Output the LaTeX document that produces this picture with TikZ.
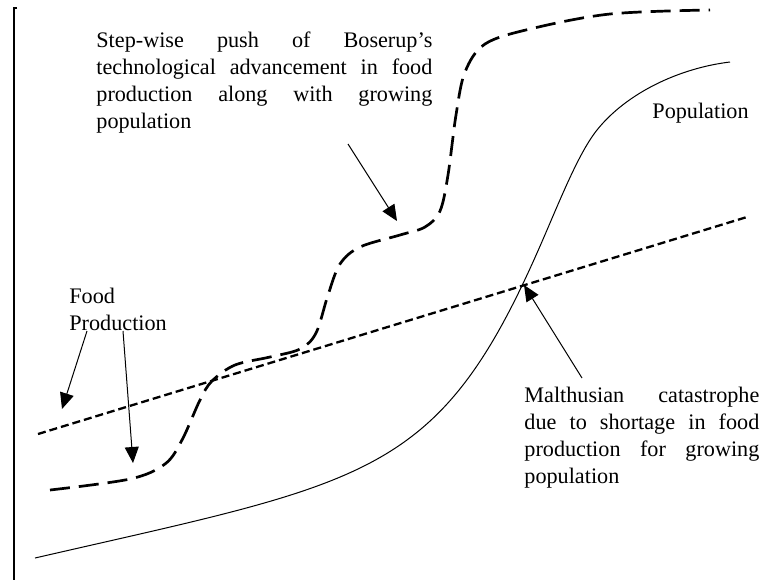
\documentclass[tikz,border=0pt]{standalone}
\usepackage{fontspec}
\setmainfont{Liberation Serif}
\usetikzlibrary{arrows.meta}

\begin{document}
\begin{tikzpicture}[
    x=0.5pt, y=-0.5pt,
    label/.style={inner sep=0pt, font=\fontsize{11.1}{13.5}\selectfont},
    para/.style={label, anchor=north west, align=justify},
    pointer/.style={-{Triangle[length=8pt, width=7pt]}, line width=0.5pt},
    foodline/.style={line width=1.15pt, dash pattern=on 4pt off 2pt},
    techline/.style={line width=1.35pt, dash pattern=on 10pt off 4.5pt},
    popline/.style={line width=0.5pt},
  ]
    \useasboundingbox (0,0) rectangle (781,580);

    % axis
    \draw[line width=0.75pt] (17,8) -- (14,8) -- (14,580);

    % curves
    \draw[foodline] (38,434) -- (747,217);
    \draw[techline] plot[smooth, tension=0.55] coordinates {
      (50,490) (130,479) (165,464) (182,440) (200,400) (212,381)
      (235,365) (270,357) (300,349) (316,333) (328,295) (340,264)
      (360,247) (400,235) (425,227) (440,211) (448,175) (456,115)
      (465,72) (485,44) (530,29) (610,14) (710,10)};
    \draw[popline] (35,558) .. controls (365,482) and (437,479) .. (537,253)
      .. controls (557,208) and (577,155) .. (597,130)
      .. controls (627,92.5) and (680,68) .. (730,62);

    % labels
    \node[para, text width=168pt] (stepText) at (96,31)
      {Step-wise push of Boserup's\linebreak technological advancement in food\linebreak
       production along with growing\linebreak population};
    \node[label, anchor=west] (popText) at (652,113) {Population};
    \node[label, anchor=north west, align=left] (foodText) at (69,288)
      {Food\\Production};
    \node[para, text width=117.5pt] (malText) at (524,387)
      {Malthusian catastrophe\linebreak due to shortage in food\linebreak
       production for growing\linebreak population};

    % pointers
    \coordinate (stepFrom) at (348,144);
    \coordinate (stepTip) at (397,221);
    \coordinate (foodFromA) at (87,331);
    \coordinate (foodTipA) at (62,409);
    \coordinate (foodFromB) at (123,331);
    \coordinate (foodTipB) at (133,463);
    \coordinate (malFrom) at (582,378);
    \coordinate (malTip) at (524,285);

    \draw[pointer] (stepFrom) -- (stepTip);
    \draw[pointer] (foodFromA) -- (foodTipA);
    \draw[pointer] (foodFromB) -- (foodTipB);
    \draw[pointer] (malFrom) -- (malTip);
  \end{tikzpicture}
\end{document}
